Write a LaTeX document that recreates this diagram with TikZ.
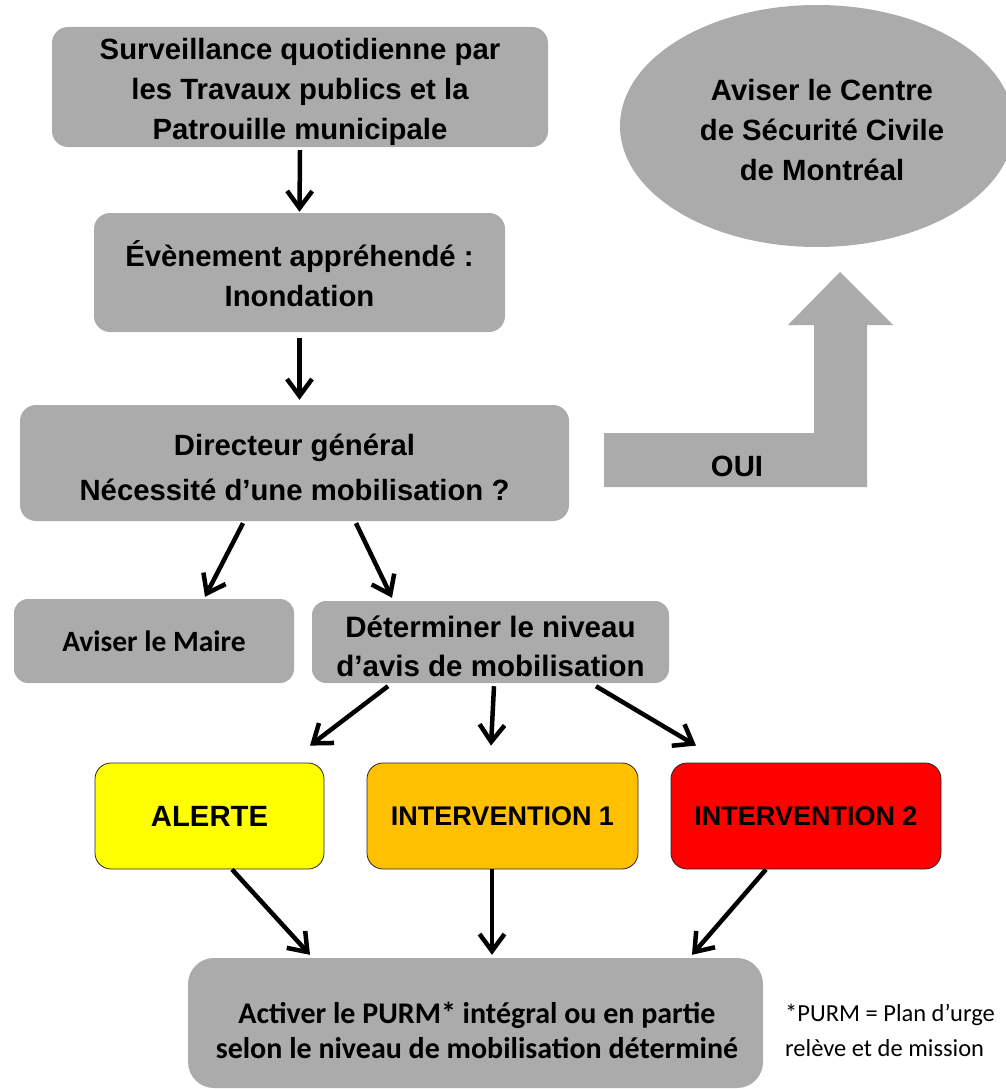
\documentclass[tikz,border=0pt]{standalone}
\usepackage{fontspec}
\setmainfont{Liberation Sans}
\newfontfamily\calfont{Carlito}
\usetikzlibrary{arrows.meta,shapes.geometric,calc}
\definecolor{boxgray}{HTML}{ABABAB}
\definecolor{alertc}{HTML}{FFFF00}
\definecolor{intonec}{HTML}{FFC000}
\definecolor{inttwoc}{HTML}{FF0000}
\newcommand\bigbold{\fontsize{29.3}{40}\selectfont\bfseries}
\newcommand\calbold{\calfont\fontsize{30}{35}\selectfont\bfseries}
\newcommand\calreg{\calfont\fontsize{24.5}{35}\selectfont}
\begin{document}
\begin{tikzpicture}[x=1pt,y=-1pt,
  gbox/.style={fill=boxgray, rounded corners=16pt, inner sep=0pt, align=center, font=\bigbold},
  txt/.style={align=center, inner sep=0pt, font=\bigbold},
  cbox/.style={draw=black!85, line width=0.8pt, rounded corners=16pt, inner sep=0pt, align=center, font=\fontsize{27}{32}\selectfont\bfseries, minimum width=#1, minimum height=106pt},
  arr/.style={line width=4.5pt, -{Straight Barb[length=17pt,width=25pt,line width=4.5pt]}}
  ]
\useasboundingbox (0,0) rectangle (1005,1089);
% boxes
\node[gbox, minimum width=496pt, minimum height=120pt] (surv) at (300,87) {};
\node[txt] (survt) at (300,92) {Surveillance quotidienne par\\les Travaux publics et la\\Patrouille municipale};
\node[ellipse, fill=boxgray, inner sep=0pt, minimum width=394pt, minimum height=242pt] (csc) at (817,126) {};
\node[txt] (csct) at (822,130) {Aviser le Centre\\de Sécurité Civile\\de Montréal};
\node[gbox, minimum width=411pt, minimum height=119pt] (evt) at (299.5,272.5) {};
\node[txt] (evtt) at (299.5,274) {Évènement appréhendé :\\Inondation};
\node[gbox, minimum width=549pt, minimum height=116pt] (dg) at (294.5,463) {};
\node[txt, font=\fontsize{29.3}{45}\selectfont\bfseries] (dgt) at (294.5,467) {Directeur général\\Nécessité d’une mobilisation ?};
\node[gbox, minimum width=280pt, minimum height=84pt, rounded corners=14pt, font=\calfont\fontsize{29.5}{35}\selectfont\bfseries] (maire) at (154,641) {Aviser le Maire};
\node[gbox, minimum width=357pt, minimum height=82pt, rounded corners=14pt] (det) at (490.5,642) {};
\node[txt, font=\fontsize{29.5}{39}\selectfont\bfseries] (dett) at (490.5,646) {Déterminer le niveau\\d’avis de mobilisation};
\node[cbox=229pt, fill=alertc, font=\bigbold] (alerte) at (209.5,816) {\raisebox{-2pt}{ALERTE}};
\node[cbox=271pt, fill=intonec] (inta) at (502.5,816) {\raisebox{-2pt}{INTERVENTION 1}};
\node[cbox=270pt, fill=inttwoc] (intb) at (806,816) {\raisebox{-2pt}{INTERVENTION 2}};
\node[gbox, minimum width=575pt, minimum height=130pt, rounded corners=26pt] (purm) at (475.5,1023) {};
\node[txt, font=\calbold] (purmt) at (477,1030) {Activer le PURM* intégral ou en partie\\selon le niveau de mobilisation déterminé};
\node[align=left, font=\calreg, anchor=west, inner sep=0pt] (note) at (785,1030) {*PURM = Plan d’urge\\relève et de mission};
% OUI arrow
\fill[boxgray] (604,433) -- (814,433) -- (814,325) -- (788,325) -- (840,272) -- (893,325) -- (867,325) -- (867,487) -- (604,487) -- cycle;
\node[font=\bigbold] (oui) at (737,466) {OUI};
% connectors
\draw[arr] ([yshift=-3]surv.south) -- ([yshift=1]evt.north);
\draw[arr] ([yshift=-6]evt.south) -- ([yshift=5]evt.south |- dg.north);
\draw[arr] ($(dg.south)+(-51.5,2)$) -- ($(maire.north)+(51,-2)$);
\draw[arr] ($(dg.south)+(61.5,2)$) -- ($(det.north)+(-98.5,-3)$);
\draw[arr] ($(det.south)+(-102.5,3)$) -- ($(alerte.north)+(100.5,-17)$);
\draw[arr] ($(det.south)+(3.5,3)$) -- ($(inta.north)+(-11.5,-17)$);
\draw[arr] ($(det.south)+(105.5,3)$) -- ($(intb.north)+(-110,-17)$);
\draw[arr] ($(alerte.south)+(22.5,0)$) -- ($(purm.north)+(-165.5,-3)$);
\draw[arr] ($(inta.south)+(-10.5,0)$) -- ($(purm.north)+(16.5,-3)$);
\draw[arr] ($(intb.south)+(-40,0)$) -- ($(purm.north)+(216.5,-3)$);
\end{tikzpicture}
\end{document}
